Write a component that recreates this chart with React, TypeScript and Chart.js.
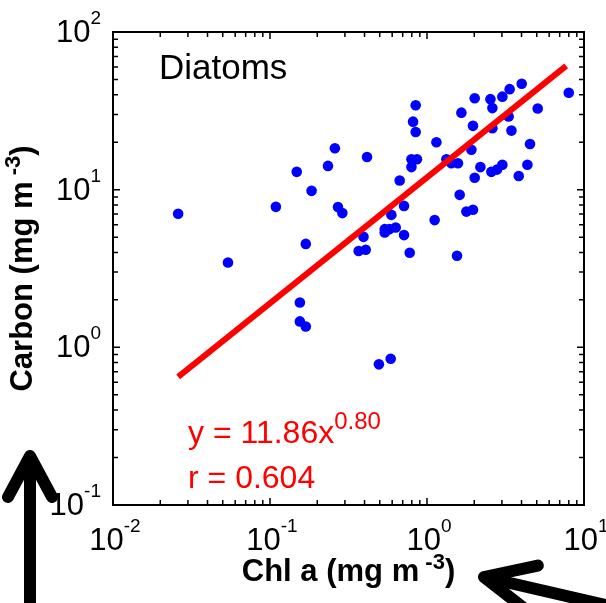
import React, { useEffect, useRef } from "react";
import { Chart, registerables } from "chart.js";

Chart.register(...registerables);

// ---- Data ----
const chlA = [
  0.026, 0.054, 0.109, 0.148, 0.184, 0.169, 0.234, 0.259, 0.271, 0.289,
  0.415, 0.367, 0.407, 0.394, 0.155, 0.155, 0.169, 0.67, 0.593, 0.538,
  0.578, 0.632, 0.538, 0.714, 0.714, 0.776, 0.494, 0.587, 0.847, 0.815,
  0.847, 0.796, 0.863, 0.796, 1.148, 1.119, 1.329, 1.43, 1.575, 1.615,
  1.553, 1.782, 1.963, 1.656, 1.918, 1.963, 2.013, 2.013, 2.188, 2.535,
  2.61, 2.61, 2.57, 2.79, 3.02, 3.02, 3.36, 3.31, 3.45, 4.01,
  3.84, 4.36, 4.53, 5.07, 8.0,
];
const carbon = [
  7.03, 3.45, 7.78, 12.97, 9.83, 4.53, 14.15, 18.3, 7.75, 7.1,
  16.1, 4.08, 4.16, 5.02, 1.925, 1.46, 1.357, 11.42, 6.92, 5.62,
  5.62, 5.75, 5.35, 7.89, 5.15, 3.98, 0.78, 0.847, 34.3, 27.0,
  23.2, 15.6, 15.6, 13.9, 20.0, 6.41, 15.6, 14.7, 14.7, 9.27,
  3.81, 7.26, 7.45, 30.8, 17.9, 25.4, 38.0, 11.9, 13.9, 37.5,
  32.9, 24.5, 12.97, 13.4, 14.4, 38.9, 43.4, 29.1, 23.7, 47.0,
  12.2, 14.4, 19.5, 32.7, 41.2,
];
const fitX = [0.026, 7.7];
const fitY = [0.65, 61];

const xTickExps = [-2, -1, 0, 1];
const yTickExps = [-1, 0, 1, 2];
const panelLabel = "Diatoms";
const eqBase = "y = 11.86x";
const eqExp = "0.80";
const rText = "r = 0.604";
const xTitle = "Chl a (mg m";
const yTitle = "Carbon (mg m";
const unitExp = " -3";

const FONT = '"Liberation Sans", Arial, sans-serif';

type Part = { text: string; size: number; bold?: boolean; rise?: number };

function font(p: Part) {
  return `${p.bold ? "bold " : ""}${p.size}px ${FONT}`;
}

function richWidth(ctx: CanvasRenderingContext2D, parts: Part[]) {
  let w = 0;
  for (const p of parts) {
    ctx.font = font(p);
    w += ctx.measureText(p.text).width;
  }
  return w;
}

function drawRich(
  ctx: CanvasRenderingContext2D,
  parts: Part[],
  x: number,
  y: number,
  align: "left" | "center" | "right",
  color: string
) {
  const w = richWidth(ctx, parts);
  let cx = align === "left" ? x : align === "center" ? x - w / 2 : x - w;
  ctx.fillStyle = color;
  ctx.textAlign = "left";
  ctx.textBaseline = "alphabetic";
  for (const p of parts) {
    ctx.font = font(p);
    ctx.fillText(p.text, cx, y - (p.rise || 0));
    cx += ctx.measureText(p.text).width;
  }
}

const decorPlugin = {
  id: "decor",
  afterDraw(chart: any) {
    const ctx: CanvasRenderingContext2D = chart.ctx;
    const { left, right, top, bottom } = chart.chartArea;
    const xs = chart.scales.x;
    const ys = chart.scales.y;
    ctx.save();

    // box
    ctx.strokeStyle = "#000";
    ctx.lineWidth = 2;
    ctx.strokeRect(left, top, right - left, bottom - top);

    // ticks
    ctx.lineWidth = 1.5;
    ctx.beginPath();
    for (let e = xTickExps[0]; e <= xTickExps[xTickExps.length - 1]; e++) {
      for (let m = 1; m <= 9; m++) {
        if (e === xTickExps[xTickExps.length - 1] && m > 1) break;
        const v = m * Math.pow(10, e);
        const px = xs.getPixelForValue(v);
        const len = m === 1 ? 7 : 5;
        ctx.moveTo(px, bottom);
        ctx.lineTo(px, bottom - len);
        ctx.moveTo(px, top);
        ctx.lineTo(px, top + len);
      }
    }
    for (let e = yTickExps[0]; e <= yTickExps[yTickExps.length - 1]; e++) {
      for (let m = 1; m <= 9; m++) {
        if (e === yTickExps[yTickExps.length - 1] && m > 1) break;
        const v = m * Math.pow(10, e);
        const py = ys.getPixelForValue(v);
        const len = m === 1 ? 7 : 5;
        ctx.moveTo(left, py);
        ctx.lineTo(left + len, py);
        ctx.moveTo(right, py);
        ctx.lineTo(right - len, py);
      }
    }
    ctx.stroke();

    // tick labels
    for (const e of xTickExps) {
      const px = xs.getPixelForValue(Math.pow(10, e));
      drawRich(
        ctx,
        [
          { text: "10", size: 31 },
          { text: String(e), size: 19, rise: 18 },
        ],
        px + 2,
        550,
        "center",
        "#000"
      );
    }
    for (const e of yTickExps) {
      const py = ys.getPixelForValue(Math.pow(10, e));
      drawRich(
        ctx,
        [
          { text: "10", size: 31 },
          { text: String(e), size: 19, rise: 18 },
        ],
        left - 12,
        py + 10,
        "right",
        "#000"
      );
    }

    // axis titles
    const xParts: Part[] = [
      { text: xTitle, size: 31, bold: true },
      { text: unitExp, size: 22, bold: true, rise: 12 },
      { text: ")", size: 31, bold: true },
    ];
    drawRich(ctx, xParts, (left + right) / 2, 581, "center", "#000");

    const yParts: Part[] = [
      { text: yTitle, size: 31, bold: true },
      { text: unitExp, size: 22, bold: true, rise: 12 },
      { text: ")", size: 31, bold: true },
    ];
    ctx.save();
    ctx.translate(32, (top + bottom) / 2);
    ctx.rotate(-Math.PI / 2);
    drawRich(ctx, yParts, 0, 0, "center", "#000");
    ctx.restore();

    // panel label
    drawRich(ctx, [{ text: panelLabel, size: 35 }], 159, 79, "left", "#000");

    // equation
    drawRich(
      ctx,
      [
        { text: eqBase, size: 32 },
        { text: eqExp, size: 24, rise: 14 },
      ],
      188,
      443,
      "left",
      "#ff0000"
    );
    drawRich(ctx, [{ text: rText, size: 32 }], 188, 488, "left", "#ff0000");

    // arrows
    ctx.strokeStyle = "#000";
    ctx.lineCap = "round";
    ctx.lineJoin = "round";
    ctx.lineWidth = 12;
    // left vertical arrow
    ctx.beginPath();
    ctx.moveTo(30, 456);
    ctx.lineTo(30, 615);
    ctx.moveTo(8, 497);
    ctx.lineTo(30, 456);
    ctx.lineTo(52, 497);
    ctx.stroke();
    // bottom-right diagonal arrow
    const tx = 484,
      ty = 577;
    const th = (13 * Math.PI) / 180;
    const ha = (25 * Math.PI) / 180;
    const al = 55;
    ctx.beginPath();
    ctx.moveTo(tx, ty);
    ctx.lineTo(tx + 200 * Math.cos(th), ty + 200 * Math.sin(th));
    ctx.moveTo(tx + al * Math.cos(th - ha), ty + al * Math.sin(th - ha));
    ctx.lineTo(tx, ty);
    ctx.lineTo(tx + al * Math.cos(th + ha), ty + al * Math.sin(th + ha));
    ctx.stroke();

    ctx.restore();
  },
};

export default function App() {
  const ref = useRef<HTMLCanvasElement | null>(null);
  useEffect(() => {
    if (!ref.current) return;
    const points = chlA.map((x, i) => ({ x, y: carbon[i] }));
    const fit = fitX.map((x, i) => ({ x, y: fitY[i] }));
    const chart = new Chart(ref.current, {
      type: "scatter",
      data: {
        datasets: [
          {
            type: "line",
            data: fit,
            borderColor: "#ff0000",
            borderWidth: 6,
            pointRadius: 0,
            showLine: true,
            fill: false,
            order: 0,
          } as any,
          {
            data: points,
            backgroundColor: "#0000ff",
            borderWidth: 0,
            pointRadius: 5.3,
            pointHoverRadius: 5.3,
            order: 1,
          },
        ],
      },
      options: {
        animation: false,
        responsive: false,
        devicePixelRatio: 1,
        layout: { padding: { left: 113, right: 22, top: 32, bottom: 98 } },
        plugins: {
          legend: { display: false },
          tooltip: { enabled: false },
        },
        events: [],
        scales: {
          x: { type: "logarithmic", min: 0.01, max: 10, display: false },
          y: { type: "logarithmic", min: 0.1, max: 100, display: false },
        },
      },
      plugins: [decorPlugin],
    });
    return () => chart.destroy();
  }, []);
  return (
    <div style={{ position: "fixed", left: 0, top: 0, width: 606, height: 603, background: "#fff" }}>
      <canvas ref={ref} width={606} height={603} style={{ display: "block" }} />
    </div>
  );
}
